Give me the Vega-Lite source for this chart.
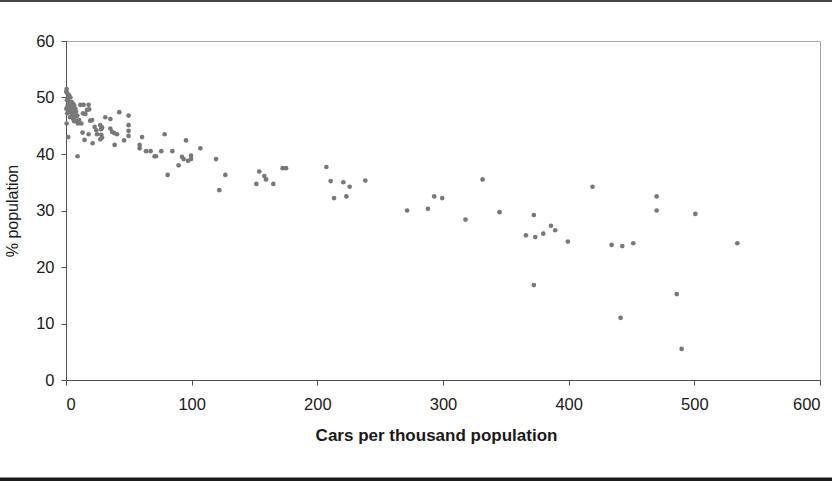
{
  "$schema": "https://vega.github.io/schema/vega-lite/v6.json",
  "width": 754,
  "height": 339,
  "autosize": {"type": "none"},
  "padding": {"left": 66, "top": 41, "right": 12, "bottom": 101},
  "background": "white",
  "config": {
    "font": "Liberation Sans",
    "view": {"stroke": "#a8a8a8", "strokeWidth": 1},
    "axis": {
      "grid": false,
      "domainColor": "#505050",
      "domainWidth": 1,
      "tickColor": "#505050",
      "tickSize": 5,
      "labelFont": "Liberation Sans",
      "labelFontSize": 16.5,
      "labelColor": "#1a1a1a",
      "titleFont": "Liberation Sans",
      "titleFontSize": 16,
      "titleColor": "#1a1a1a"
    }
  },
  "layer": [
    {
      "data": {
        "values": [
          {"cars": 0.5, "pct": 51.5}, {"cars": 0.2, "pct": 51.0}, {"cars": 1.0, "pct": 50.8}, {"cars": 2.5, "pct": 50.4},
          {"cars": 3.5, "pct": 50.0}, {"cars": 1.5, "pct": 49.8}, {"cars": 0.8, "pct": 49.5}, {"cars": 2.0, "pct": 49.3},
          {"cars": 3.0, "pct": 49.0}, {"cars": 4.5, "pct": 49.2}, {"cars": 5.5, "pct": 48.9}, {"cars": 6.5, "pct": 48.6},
          {"cars": 1.2, "pct": 48.5}, {"cars": 2.8, "pct": 48.4}, {"cars": 4.0, "pct": 48.2}, {"cars": 0.3, "pct": 48.0},
          {"cars": 5.0, "pct": 47.9}, {"cars": 7.5, "pct": 48.0}, {"cars": 2.2, "pct": 47.6}, {"cars": 3.8, "pct": 47.4},
          {"cars": 6.0, "pct": 47.3}, {"cars": 8.0, "pct": 47.5}, {"cars": 1.0, "pct": 47.2}, {"cars": 4.8, "pct": 46.9},
          {"cars": 7.0, "pct": 46.6}, {"cars": 9.0, "pct": 46.8}, {"cars": 3.2, "pct": 46.5}, {"cars": 5.8, "pct": 46.2},
          {"cars": 10.5, "pct": 46.0}, {"cars": 8.5, "pct": 45.9}, {"cars": 0.5, "pct": 45.4}, {"cars": 9.5, "pct": 45.4},
          {"cars": 12.2, "pct": 45.4}, {"cars": 6.5, "pct": 45.8}, {"cars": 11.4, "pct": 48.7}, {"cars": 1.8, "pct": 43.0},
          {"cars": 9.2, "pct": 39.6},
          {"cars": 14.0, "pct": 48.7}, {"cars": 18.0, "pct": 48.7}, {"cars": 16.7, "pct": 47.8}, {"cars": 18.5, "pct": 47.9},
          {"cars": 13.5, "pct": 47.2}, {"cars": 15.4, "pct": 47.1}, {"cars": 20.7, "pct": 46.0}, {"cars": 19.3, "pct": 45.9},
          {"cars": 22.8, "pct": 44.8}, {"cars": 27.3, "pct": 45.1}, {"cars": 28.7, "pct": 44.7}, {"cars": 27.9, "pct": 44.4},
          {"cars": 31.3, "pct": 46.5}, {"cars": 35.3, "pct": 46.2}, {"cars": 42.4, "pct": 47.4}, {"cars": 49.8, "pct": 46.8},
          {"cars": 49.8, "pct": 45.1}, {"cars": 49.8, "pct": 44.1}, {"cars": 49.8, "pct": 43.2}, {"cars": 35.3, "pct": 44.5},
          {"cars": 36.6, "pct": 43.9}, {"cars": 38.4, "pct": 43.7}, {"cars": 40.6, "pct": 43.5}, {"cars": 24.1, "pct": 44.2},
          {"cars": 24.7, "pct": 43.5}, {"cars": 28.1, "pct": 43.4}, {"cars": 28.7, "pct": 42.9}, {"cars": 27.3, "pct": 42.6},
          {"cars": 18.0, "pct": 43.5}, {"cars": 13.2, "pct": 43.8}, {"cars": 14.8, "pct": 42.5}, {"cars": 21.2, "pct": 41.9},
          {"cars": 38.7, "pct": 41.6}, {"cars": 46.2, "pct": 42.4}, {"cars": 60.5, "pct": 43.0}, {"cars": 58.6, "pct": 41.6},
          {"cars": 58.6, "pct": 41.0}, {"cars": 63.7, "pct": 40.5}, {"cars": 67.3, "pct": 40.5}, {"cars": 70.5, "pct": 39.6},
          {"cars": 71.6, "pct": 39.6}, {"cars": 75.8, "pct": 40.5}, {"cars": 78.5, "pct": 43.5}, {"cars": 84.6, "pct": 40.5},
          {"cars": 80.9, "pct": 36.3}, {"cars": 89.6, "pct": 38.0}, {"cars": 92.3, "pct": 39.5}, {"cars": 93.6, "pct": 39.1},
          {"cars": 95.5, "pct": 42.4}, {"cars": 97.1, "pct": 38.8}, {"cars": 99.5, "pct": 39.1}, {"cars": 99.5, "pct": 39.7},
          {"cars": 106.9, "pct": 41.0}, {"cars": 119.4, "pct": 39.1}, {"cars": 126.8, "pct": 36.3}, {"cars": 122.0, "pct": 33.6},
          {"cars": 153.8, "pct": 36.9}, {"cars": 151.5, "pct": 34.7}, {"cars": 157.8, "pct": 36.1}, {"cars": 159.2, "pct": 35.5},
          {"cars": 165.0, "pct": 34.7}, {"cars": 172.4, "pct": 37.5}, {"cars": 175.1, "pct": 37.5}, {"cars": 207.2, "pct": 37.7},
          {"cars": 210.6, "pct": 35.2}, {"cars": 220.7, "pct": 35.0}, {"cars": 225.7, "pct": 34.2}, {"cars": 238.2, "pct": 35.3},
          {"cars": 213.3, "pct": 32.2}, {"cars": 223.1, "pct": 32.5}, {"cars": 271.4, "pct": 30.0},
          {"cars": 288.0, "pct": 30.3}, {"cars": 293.0, "pct": 32.5}, {"cars": 299.4, "pct": 32.2}, {"cars": 317.9, "pct": 28.4},
          {"cars": 331.5, "pct": 35.5}, {"cars": 345.0, "pct": 29.7}, {"cars": 366.0, "pct": 25.6}, {"cars": 372.3, "pct": 29.2},
          {"cars": 373.4, "pct": 25.3}, {"cars": 379.8, "pct": 25.9}, {"cars": 385.9, "pct": 27.3}, {"cars": 389.3, "pct": 26.5},
          {"cars": 399.4, "pct": 24.5}, {"cars": 372.3, "pct": 16.8}, {"cars": 419.0, "pct": 34.2}, {"cars": 434.2, "pct": 23.9},
          {"cars": 442.7, "pct": 23.7}, {"cars": 451.4, "pct": 24.2}, {"cars": 441.3, "pct": 11.0}, {"cars": 470.0, "pct": 32.5},
          {"cars": 470.0, "pct": 30.0}, {"cars": 500.8, "pct": 29.4}, {"cars": 486.0, "pct": 15.2}, {"cars": 489.9, "pct": 5.5},
          {"cars": 534.2, "pct": 24.2}
        ]
      },
      "mark": {"type": "circle", "size": 22, "color": "#787878", "opacity": 1},
      "encoding": {
        "x": {
          "field": "cars",
          "type": "quantitative",
          "scale": {"domain": [0, 600], "nice": false, "zero": false},
          "axis": {
            "title": "Cars per thousand population",
            "titleFontWeight": "bold",
            "titleFontSize": 17,
            "titleX": 370,
            "values": [0, 100, 200, 300, 400, 500, 600],
            "labelPadding": 11,
            "titlePadding": 15
          }
        },
        "y": {
          "field": "pct",
          "type": "quantitative",
          "scale": {"domain": [0, 60], "nice": false, "zero": false},
          "axis": {
            "title": "% population",
            "titleFontWeight": "normal",
            "values": [0, 10, 20, 30, 40, 50, 60],
            "labelPadding": 7,
            "titlePadding": 15
          }
        }
      }
    },
    {
      "data": {"values": [{"edge": "top"}]},
      "mark": {"type": "rule", "clip": false, "color": "#454545", "strokeWidth": 2},
      "encoding": {
        "x": {"datum": -60},
        "x2": {"datum": 620},
        "y": {"datum": 67.08}
      }
    },
    {
      "data": {"values": [{"edge": "bottom"}]},
      "mark": {"type": "rule", "clip": false, "color": "#1c1c1c", "strokeWidth": 3.6},
      "encoding": {
        "x": {"datum": -60},
        "x2": {"datum": 620},
        "y": {"datum": -17.56}
      }
    }
  ]
}
